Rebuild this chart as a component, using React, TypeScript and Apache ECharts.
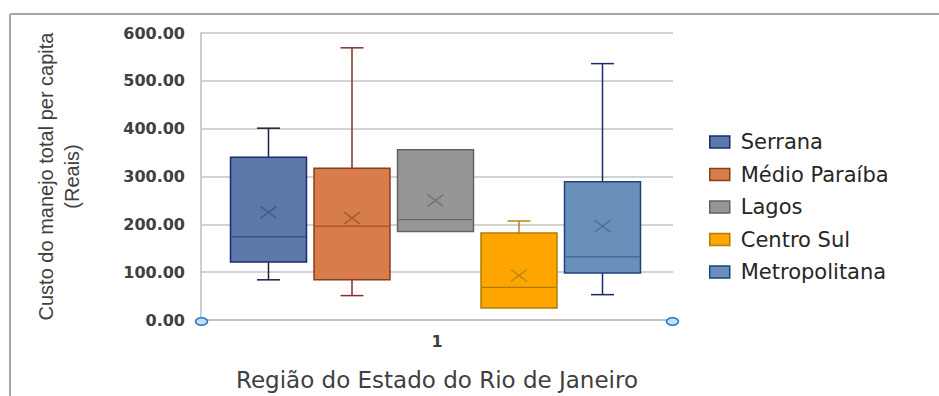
import React, { useEffect, useRef } from 'react';
import * as echarts from 'echarts';

const categories = ['1'];
const regions = ['Serrana', 'Médio Paraíba', 'Lagos', 'Centro Sul', 'Metropolitana'];
const minValues = [84, 51, 185, 25, 53];
const q1Values = [121, 84, 185, 25, 98];
const medianValues = [174, 196, 210, 68, 132];
const q3Values = [340, 317, 356, 182, 289];
const maxValues = [401, 569, 356, 207, 536];
const meanValues = [225, 213, 250, 93, 196];

const fillColors = ['#5b79a8', '#d77c4b', '#969696', '#ffa500', '#6b8fbb'];
const borderColors = ['#1c2b6e', '#8c3b1b', '#636363', '#b07f00', '#1f4478'];
const whiskerColors = ['#1a1f3d', '#8b2c2c', '#636363', '#b8860b', '#1e2a6a'];
const medianColors = ['#3a5283', '#a8582b', '#6a6a6a', '#b07a00', '#3f6190'];
const meanColors = ['#40598a', '#a45a2e', '#6e6e6e', '#b8860b', '#4b6c98'];

export default function App() {
  const ref = useRef<HTMLDivElement>(null);
  useEffect(() => {
    const chart = echarts.init(ref.current!, null, { renderer: 'svg' });
    const BOX_W = 76;
    const SPACING = 83.5;
    const CAP_W = 23;
    const SHIFT = -1.5;

    const series = regions.map((name, i) => ({
      type: 'custom',
      name,
      coordinateSystem: 'cartesian2d',
      itemStyle: { color: fillColors[i], borderColor: borderColors[i], borderWidth: 1.5 },
      encode: { x: 0, y: [1, 2, 3, 4, 5, 6] },
      data: [[0, minValues[i], q1Values[i], medianValues[i], q3Values[i], maxValues[i], meanValues[i]]],
      renderItem: (params: any, api: any) => {
        const c = api.value(0);
        const base = api.coord([c, 0]);
        const cx = base[0] + SHIFT + (i - (regions.length - 1) / 2) * SPACING;
        const Y = (k: number) => api.coord([c, api.value(k)])[1];
        const yMin = Y(1), yQ1 = Y(2), yMed = Y(3), yQ3 = Y(4), yMax = Y(5), yMean = Y(6);
        const l = cx - BOX_W / 2;
        const r = cx + BOX_W / 2;
        const wStyle = { stroke: whiskerColors[i], lineWidth: 1.5 };
        const children: any[] = [];
        if (yMax < yQ3 - 0.5) {
          children.push({ type: 'line', shape: { x1: cx, y1: yQ3, x2: cx, y2: yMax }, style: wStyle });
          children.push({ type: 'line', shape: { x1: cx - CAP_W / 2, y1: yMax, x2: cx + CAP_W / 2, y2: yMax }, style: wStyle });
        }
        if (yMin > yQ1 + 0.5) {
          children.push({ type: 'line', shape: { x1: cx, y1: yQ1, x2: cx, y2: yMin }, style: wStyle });
          children.push({ type: 'line', shape: { x1: cx - CAP_W / 2, y1: yMin, x2: cx + CAP_W / 2, y2: yMin }, style: wStyle });
        }
        children.push({
          type: 'rect',
          shape: { x: l, y: yQ3, width: BOX_W, height: yQ1 - yQ3 },
          style: { fill: fillColors[i], stroke: borderColors[i], lineWidth: 1.5 },
        });
        children.push({
          type: 'line',
          shape: { x1: l + 1, y1: yMed, x2: r - 1, y2: yMed },
          style: { stroke: medianColors[i], lineWidth: 1.3 },
        });
        const mStyle = { stroke: meanColors[i], lineWidth: 1.3 };
        children.push({ type: 'line', shape: { x1: cx - 8, y1: yMean - 6, x2: cx + 8, y2: yMean + 6 }, style: mStyle });
        children.push({ type: 'line', shape: { x1: cx - 8, y1: yMean + 6, x2: cx + 8, y2: yMean - 6 }, style: mStyle });
        return { type: 'group', children };
      },
    }));

    chart.setOption({
      animation: false,
      backgroundColor: '#ffffff',
      grid: { left: 201, right: 266, top: 33, bottom: 74, containLabel: false },
      legend: {
        orient: 'vertical',
        left: 709,
        top: 131,
        padding: 0,
        icon: 'rect',
        itemWidth: 20,
        itemHeight: 12,
        itemGap: 10.5,
        data: regions.map((name, i) => ({
          name,
          itemStyle: { color: fillColors[i], borderColor: borderColors[i], borderWidth: 1.5 },
        })),
        textStyle: {
          fontFamily: 'DejaVu Sans',
          fontSize: 21,
          color: '#262626',
          lineHeight: 22,
          padding: [0, 0, 0, 6],
        },
      },
      xAxis: {
        type: 'category',
        data: categories,
        axisLine: { show: true, lineStyle: { color: '#bdbdbd', width: 1.5 } },
        axisTick: { show: false },
        axisLabel: { fontFamily: 'DejaVu Sans', fontSize: 16, fontWeight: 'bold', color: '#404040', margin: 13 },
        splitLine: { show: false },
        name: 'Região do Estado do Rio de Janeiro',
        nameLocation: 'middle',
        nameGap: 48,
        nameTextStyle: { fontFamily: 'DejaVu Sans', fontSize: 23, color: '#404040' },
      },
      yAxis: {
        type: 'value',
        min: 0,
        max: 600,
        interval: 100,
        axisLine: { show: true, lineStyle: { color: '#bdbdbd', width: 1.5 } },
        axisTick: { show: false },
        axisLabel: {
          fontFamily: 'DejaVu Sans',
          fontSize: 16,
          fontWeight: 'bold',
          color: '#404040',
          margin: 16,
          formatter: (v: number) => v.toFixed(2),
        },
        splitLine: { show: true, lineStyle: { color: '#c4c4c4', width: 1.5 } },
        name: 'Custo do manejo total per capita\n(Reais)',
        nameLocation: 'middle',
        nameRotate: 90,
        nameGap: 116,
        nameTextStyle: { fontFamily: 'Liberation Sans', fontSize: 20, color: '#404040', lineHeight: 26 },
      },
      graphic: [
        { type: 'line', shape: { x1: 10, y1: 14, x2: 939, y2: 14 }, style: { stroke: '#a6a6a6', lineWidth: 2 }, z: 100 },
        { type: 'line', shape: { x1: 10, y1: 14, x2: 10, y2: 396 }, style: { stroke: '#a6a6a6', lineWidth: 2 }, z: 100 },
        { type: 'ellipse', shape: { cx: 201.5, cy: 321.5, rx: 6, ry: 3.8 }, style: { fill: '#bfe1f7', stroke: '#2f73b8', lineWidth: 1.6 }, z: 100 },
        { type: 'ellipse', shape: { cx: 672.5, cy: 321.5, rx: 6, ry: 3.8 }, style: { fill: '#bfe1f7', stroke: '#2f73b8', lineWidth: 1.6 }, z: 100 },
      ],
      series,
    });
    return () => chart.dispose();
  }, []);
  return (
    <div
      ref={ref}
      style={{ position: 'fixed', left: 0, top: 0, width: 939, height: 396, background: '#fff' }}
    />
  );
}
